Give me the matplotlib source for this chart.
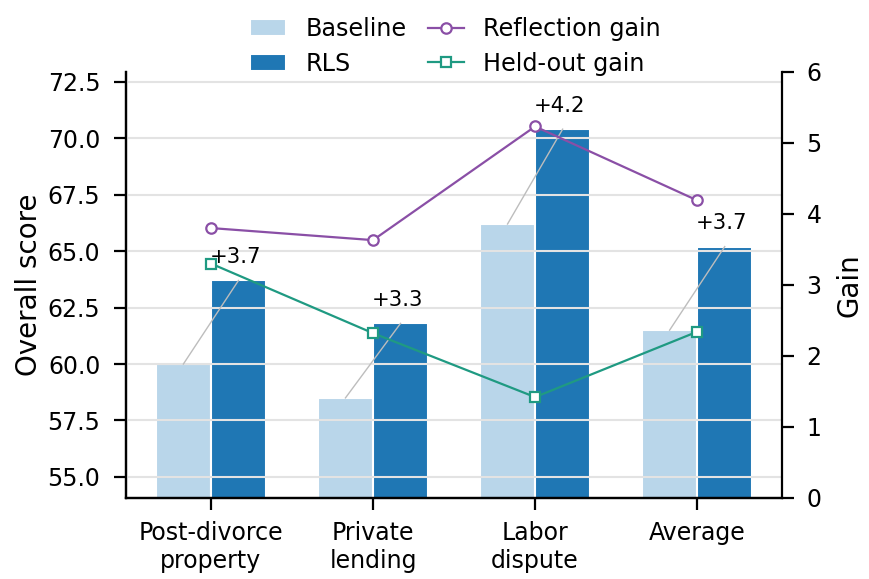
import numpy as np
import matplotlib.pyplot as plt

plt.rcParams.update({
    "font.family": "DejaVu Sans",
    "axes.linewidth": 1.6,
})

# --- dados ---
categorias = ["Post-divorce\nproperty", "Private\nlending", "Labor\ndispute", "Average"]
baseline = [60.0, 58.5, 66.2, 61.5]
rls = [63.7, 61.8, 70.4, 65.2]
ganho_reflexao = [3.80, 3.63, 5.23, 4.19]
ganho_heldout = [3.30, 2.32, 1.42, 2.34]
yticks_esq = [55.0, 57.5, 60.0, 62.5, 65.0, 67.5, 70.0, 72.5]
yticks_dir = [0, 1, 2, 3, 4, 5, 6]

cor_base = "#b9d6ea"
cor_rls = "#1f77b4"
cor_refl = "#8a4fa6"
cor_held = "#1f9a82"

x = np.arange(len(categorias))
w = 0.34

fig = plt.figure(figsize=(8.69, 5.79), dpi=100)
ax = fig.add_axes([0.145, 0.140, 0.755, 0.736])
ax2 = ax.twinx()

b1 = ax.bar(x - w / 2, baseline, w, color=cor_base, edgecolor="white", linewidth=1.5,
            label="Baseline", zorder=1)
b2 = ax.bar(x + w / 2, rls, w, color=cor_rls, edgecolor="white", linewidth=1.5,
            label="RLS", zorder=1)

# grade por cima das barras
ax.set_axisbelow(False)
ax.yaxis.grid(True, color="#e3e3e3", linewidth=1.5)
ax.xaxis.grid(False)

# ligação baseline -> RLS e rótulo do ganho
for xi, b, r in zip(x, baseline, rls):
    ax.plot([xi - w / 2, xi + w / 2], [b, r], color="#bdbdbd", lw=1.0, zorder=3)
    ax.text(xi + w / 2 - 0.02, r + 0.6, f"+{r - b:.1f}", ha="center", va="bottom",
            fontsize=15.3, zorder=4)

ax.set_ylim(54.07, 72.94)
ax.set_yticks(yticks_esq)
ax.set_yticklabels([f"{v:.1f}" for v in yticks_esq])
ax.set_xticks(x)
ax.set_xticklabels(categorias)
ax.set_ylabel("Overall score", fontsize=20, labelpad=3)
ax.tick_params(axis="x", labelsize=17, length=8.5, width=1.6, pad=8)
ax.tick_params(axis="y", labelsize=17, length=8.5, width=1.6, pad=10)

l1, = ax2.plot(x, ganho_reflexao, "-o", color=cor_refl, lw=1.6, ms=7.5,
               mfc="white", mew=1.6, label="Reflection gain")
l2, = ax2.plot(x, ganho_heldout, "-s", color=cor_held, lw=1.6, ms=7,
               mfc="white", mew=1.6, label="Held-out gain")
ax2.set_ylim(0, 6)
ax2.set_yticks(yticks_dir)
ax2.set_ylabel("Gain", fontsize=20, labelpad=10)
ax2.tick_params(axis="y", labelsize=17, length=8.5, width=1.6, pad=9)

for a in (ax, ax2):
    a.spines["top"].set_visible(False)
ax.spines["right"].set_visible(False)

fig.legend([b1, b2, l1, l2], ["Baseline", "RLS", "Reflection gain", "Held-out gain"],
           loc="upper center", bbox_to_anchor=(0.524, 1.008), ncol=2, frameon=False,
           fontsize=17.2, columnspacing=0.9, handlelength=1.5, labelspacing=0.45)

fig.savefig("out.png", dpi=100)
